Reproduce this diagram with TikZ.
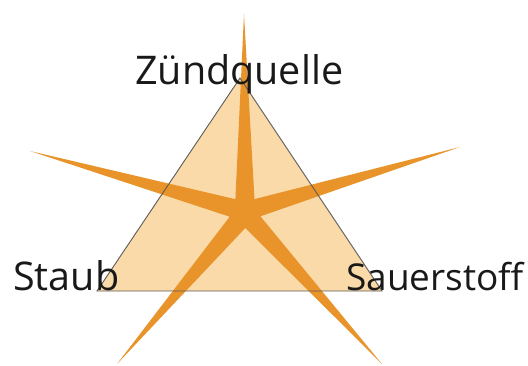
\documentclass[tikz,border=0pt]{standalone}
\usepackage{fontspec}
\setmainfont{Open Sans}
\definecolor{trifill}{HTML}{F9DAA8}
\definecolor{starfill}{HTML}{E8942A}
\definecolor{triedge}{HTML}{5E5A56}
\tikzset{
  lbl/.style={anchor=base west, inner sep=0pt, font=\fontsize{39.5}{42}\selectfont, text=black!90},
  lblsmall/.style={lbl, font=\fontsize{37}{40}\selectfont},
}
\begin{document}
\begin{tikzpicture}[x=1pt,y=-1pt]
\useasboundingbox (0,0) rectangle (528,365);
% triangle corners
\coordinate (A) at (240,78);
\coordinate (B) at (97,291);
\coordinate (C) at (382,291);
\fill[trifill] (A) -- (B) -- (C) -- cycle;
% star
\coordinate (tU) at (244,14);
\coordinate (tL) at (30,151);
\coordinate (tBL) at (117,364);
\coordinate (tBR) at (382,364);
\coordinate (tR) at (460,147);
\coordinate (i1) at (235.4,199.2);
\coordinate (i2) at (229.7,216.7);
\coordinate (i3) at (245.3,228);
\coordinate (i4) at (260.4,216.3);
\coordinate (i5) at (254.5,199.1);
\fill[starfill] (tU) -- (i1) -- (tL) -- (i2) -- (tBL) -- (i3) -- (tBR) -- (i4) -- (tR) -- (i5) -- cycle;
\draw[triedge, line width=0.9pt, line join=miter] (A) -- (B) -- (C) -- cycle;
% labels
\node[lbl] (z) at (135,84) {Zündquelle};
\node[lbl] (s) at (13,290) {Staub};
\node[lblsmall] (o) at (346,290) {Sauerstoff};
\end{tikzpicture}
\end{document}
